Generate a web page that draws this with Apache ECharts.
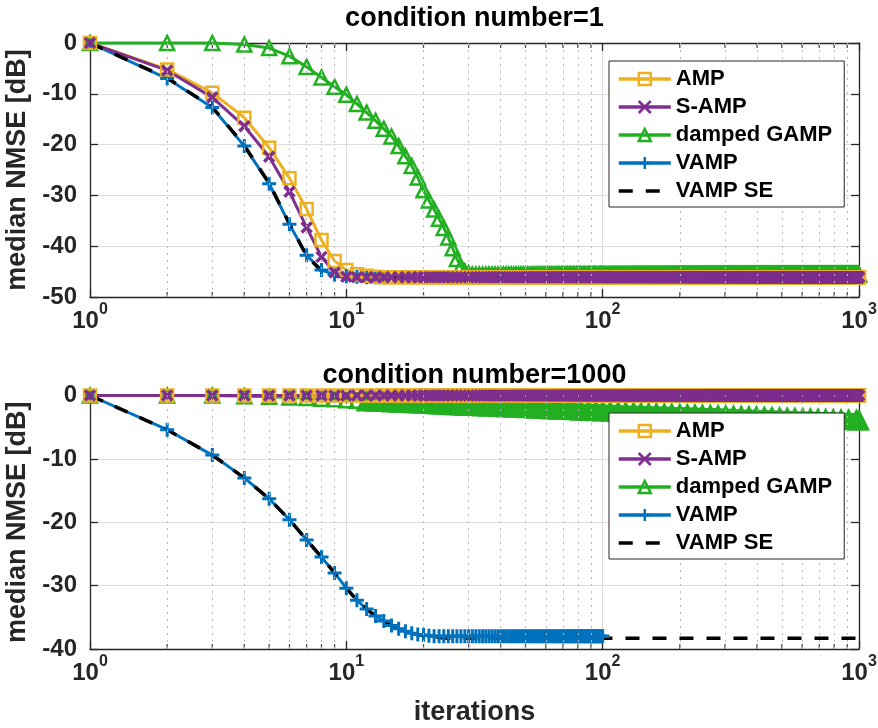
<!DOCTYPE html>
<html><head><meta charset="utf-8">
<script src="https://cdn.jsdelivr.net/npm/echarts@6/dist/echarts.min.js"></script>
<style>html,body{margin:0;padding:0;background:#fff}#c{width:878px;height:728px}</style>
</head><body><div id="c"></div>
<script>
// ================= DATA =================
const seriesNames = ['AMP', 'S-AMP', 'damped GAMP', 'VAMP', 'VAMP SE'];
const panelTitles = ['condition number=1', 'condition number=1000'];
const xTickExponents = [0, 1, 2, 3];            // ticks 10^0 .. 10^3
const yTicksTop = [0, -10, -20, -30, -40, -50];
const yTicksBottom = [0, -10, -20, -30, -40];
const xMinorTicks = [2,3,4,5,6,7,8,9,20,30,40,50,60,70,80,90,200,300,400,500,600,700,800,900];
const lastIteration = 1000;

// --- condition number = 1 : values per iteration 1,2,3,... then a flat floor ---
const ampTopHead   = [0,-5.2,-9.8,-14.7,-20.6,-26.6,-32.7,-38.8,-42.9,-44.7,-45.5,-45.8,-46.0];
const ampTopFloor  = -46.1;
const sampTopHead  = [0,-5.4,-10.7,-16.4,-22.4,-29.3,-36.3,-42.1,-45.2,-46.0];
const sampTopFloor = -46.1;
const gampTopHead  = [0,0,0,-0.3,-1.0,-2.6,-4.7,-6.8,-8.6,-10.2,-12.0,-13.7,-15.3,-16.9,-18.4,
                      -20.3,-22.3,-24.2,-26.5,-29.0,-31.0,-32.8,-34.6,-36.4,-38.3,-40.4,-42.5,-44.0,-45.0,-45.4];
const gampTopFloor = -45.6;
const vampTop      = [0,-7.0,-12.7,-20.3,-27.7,-35.7,-41.8,-44.7,-45.6,-45.9,-46.0,-46.1,-46.1,-46.1];
const vampSeTopHead  = [0,-6.9,-12.6,-20.2,-27.6,-35.6,-41.9,-44.9,-45.8,-46.1];
const vampSeTopFloor = -46.2;

// --- condition number = 1000 ---
const ampBottomHead  = [0];
const ampBottomFloor = 0;
const sampBottomHead = [0];
const sampBottomFloor = 0;
// damped GAMP slowly decreasing: iterations and values read at these iterations
const gampBottomIters = [1,2,3,4,5,6,7,8,9,10,11,12,13,14,15,16,17,18,19,20,21,22,23,24,25,26,27,28,29,30,
  32,34,36,39,42,45,48,51,55,59,63,67,72,77,82,88,94,100,
  107,115,123,132,141,151,162,174,186,200,214,229,245,263,282,302,324,347,372,398,427,457,490,525,562,603,646,692,741,794,851,912,977,1000];
const gampBottomVals = [0,0,0,-0.1,-0.2,-0.3,-0.4,-0.5,-0.6,-0.75,
  -0.82,-0.89,-0.95,-1.0,-1.06,-1.1,-1.15,-1.2,-1.24,-1.28,
  -1.32,-1.35,-1.38,-1.42,-1.45,-1.48,-1.5,-1.53,-1.56,-1.58,
  -1.63,-1.68,-1.72,-1.78,-1.84,-1.89,-1.94,-1.98,-2.04,-2.1,-2.15,-2.2,-2.25,-2.3,-2.35,-2.4,-2.45,-2.5,
  -2.54,-2.59,-2.63,-2.67,-2.71,-2.75,-2.79,-2.84,-2.88,-2.92,-2.96,-3.0,-3.05,-3.09,-3.13,-3.17,-3.22,
  -3.26,-3.3,-3.34,-3.38,-3.42,-3.47,-3.51,-3.55,-3.59,-3.63,-3.68,-3.72,-3.76,-3.8,-3.84,-3.89,-3.9];
const vampBottomHead  = [0,-5.4,-9.4,-13.0,-16.3,-19.6,-22.8,-25.5,-28.0,-30.4,-32.3,-33.7,-34.8,-35.6,-36.3,-36.8,-37.2,-37.5,-37.7,-37.8,-37.9];
const vampBottomFloor = -38.0;
const vampBottomLast  = 100;
const vampSeBottomHead  = [0,-5.4,-9.4,-13.0,-16.3,-19.6,-22.8,-25.5,-28.0,-30.4,-32.3,-33.7,-34.8,-35.6,-36.3,-36.8,-37.2,-37.5,-37.7,-37.9,-38.0,-38.1,-38.2,-38.25,-38.3];
const vampSeBottomFloor = -38.3;

// ================= CHART =================
function perIteration(head, floor, last) {
  const out = [];
  for (let n = 1; n <= last; n++) out.push([n, n <= head.length ? head[n - 1] : floor]);
  return out;
}

const FONT = '"Liberation Sans", Arial, Helvetica, sans-serif';
const AX = '#262626';
const COL = { amp: '#EDB120', samp: '#7E2F8E', gamp: '#22B022', vamp: '#0072BD', se: '#000000' };
const CLEAR = 'rgba(255,255,255,0)';

const styles = {
  'AMP': { symbol: 'rect', symbolSize: 12, itemStyle: { color: CLEAR, borderColor: COL.amp, borderWidth: 2.5 }, lineStyle: { color: COL.amp, width: 3 } },
  'S-AMP': { symbol: 'path://M0,0L10,10M10,0L0,10', symbolSize: 10, itemStyle: { color: CLEAR, borderColor: COL.samp, borderWidth: 3.5 }, lineStyle: { color: COL.samp, width: 3 } },
  'damped GAMP': { symbol: 'triangle', symbolSize: 14, itemStyle: { color: CLEAR, borderColor: COL.gamp, borderWidth: 2.5 }, lineStyle: { color: COL.gamp, width: 3 } },
  'VAMP': { symbol: 'path://M5,0L5,10M0,5L10,5', symbolSize: 14, itemStyle: { color: CLEAR, borderColor: COL.vamp, borderWidth: 3 }, lineStyle: { color: COL.vamp, width: 3 } },
  'VAMP SE': { symbol: 'none', lineStyle: { color: COL.se, width: 3.5, type: [14, 13] } }
};

function lineSeries(name, gi, data, override) {
  const s = Object.assign({
    type: 'line', name, xAxisIndex: 2 * gi, yAxisIndex: 2 * gi, data,
    clip: false, animation: false, silent: true, emphasis: { disabled: true }
  }, JSON.parse(JSON.stringify(styles[name])));
  if (override) {
    Object.keys(override).forEach(k => {
      s[k] = (typeof override[k] === 'object') ? Object.assign({}, s[k], override[k]) : override[k];
    });
  }
  return s;
}

const gridsPos = [
  { left: 90, top: 43, width: 769, height: 254 },
  { left: 90, top: 395.5, width: 769, height: 253.5 }
];
const yTickSets = [yTicksTop, yTicksBottom];

const xAxes = [], yAxes = [], series = [];
gridsPos.forEach((g, i) => {
  const ymin = Math.min(...yTickSets[i]), ymax = Math.max(...yTickSets[i]);
  xAxes.push({
    type: 'log', logBase: 10, gridIndex: i, min: 1, max: 1000, splitNumber: xTickExponents.length - 1,
    axisLine: { show: true, onZero: false, lineStyle: { color: AX, width: 1.3 } },
    axisTick: { show: true, inside: true, length: 8, lineStyle: { color: AX, width: 1.3 } },
    splitLine: { show: true, lineStyle: { color: '#dcdcdc', width: 1 } },
    axisLabel: {
      margin: 12, showMinLabel: true, showMaxLabel: true,
      formatter: v => '{b|10}{s|' + Math.round(Math.log10(v)) + '}',
      rich: {
        b: { fontSize: 24, fontWeight: 'bold', color: AX, fontFamily: FONT, lineHeight: 24, verticalAlign: 'bottom' },
        s: { fontSize: 16, fontWeight: 'bold', color: AX, fontFamily: FONT, lineHeight: 16, verticalAlign: 'bottom', padding: [0, 0, 15, 0] }
      }
    },
    name: i === 1 ? 'iterations' : '', nameLocation: 'middle', nameGap: 50,
    nameTextStyle: { fontSize: 27, fontWeight: 'bold', color: AX, fontFamily: FONT }
  });
  xAxes.push({
    type: 'log', logBase: 10, gridIndex: i, min: 1, max: 1000, position: 'top', splitNumber: 3,
    axisLine: { show: true, onZero: false, lineStyle: { color: AX, width: 1.3 } },
    axisTick: { show: true, inside: true, length: 8, lineStyle: { color: AX, width: 1.3 } },
    axisLabel: { show: false }, splitLine: { show: false }
  });
  yAxes.push({
    type: 'value', gridIndex: i, min: ymin, max: ymax, interval: 10,
    axisLine: { show: true, onZero: false, lineStyle: { color: AX, width: 1.3 } },
    axisTick: { show: true, inside: true, length: 8, lineStyle: { color: AX, width: 1.3 } },
    splitLine: { show: true, lineStyle: { color: '#dcdcdc', width: 1 } },
    axisLabel: { margin: 13, fontSize: 24, fontWeight: 'bold', color: AX, fontFamily: FONT },
    name: 'median NMSE [dB]', nameLocation: 'middle', nameGap: 45,
    nameTextStyle: { fontSize: 27, fontWeight: 'bold', color: AX, fontFamily: FONT }
  });
  yAxes.push({
    type: 'value', gridIndex: i, min: ymin, max: ymax, interval: 10, position: 'right',
    axisLine: { show: true, onZero: false, lineStyle: { color: AX, width: 1.3 } },
    axisTick: { show: true, inside: true, length: 8, lineStyle: { color: AX, width: 1.3 } },
    axisLabel: { show: false }, splitLine: { show: false }
  });
  // minor ticks (2..9 per decade) and dotted minor grid lines
  series.push({
    type: 'scatter', xAxisIndex: 2 * i, yAxisIndex: 2 * i, silent: true, z: 1, animation: false, clip: false,
    symbol: 'rect', symbolSize: [1.3, 5], itemStyle: { color: AX },
    data: xMinorTicks.map(x => ({ value: [x, ymin], symbolOffset: [0, -2.5] }))
      .concat(xMinorTicks.map(x => ({ value: [x, ymax], symbolOffset: [0, 2.5] }))),
    markLine: {
      silent: true, symbol: 'none', label: { show: false }, animation: false,
      lineStyle: { type: [2, 5], color: '#b8b8b8', width: 1 },
      emphasis: { disabled: true },
      data: xMinorTicks.map(x => ({ xAxis: x }))
    }
  });
});

// top panel (draw order: VAMP, damped GAMP, AMP, S-AMP, VAMP SE)
series.push(lineSeries('VAMP', 0, vampTop.map((v, k) => [k + 1, v])));
series.push(lineSeries('damped GAMP', 0, perIteration(gampTopHead, gampTopFloor, lastIteration)));
series.push(lineSeries('AMP', 0, perIteration(ampTopHead, ampTopFloor, lastIteration)));
series.push(lineSeries('S-AMP', 0, perIteration(sampTopHead, sampTopFloor, lastIteration)));
series.push(lineSeries('VAMP SE', 0, perIteration(vampSeTopHead, vampSeTopFloor, lastIteration)));

// bottom panel
series.push(lineSeries('VAMP', 1, perIteration(vampBottomHead, vampBottomFloor, vampBottomLast)));
const gampBottomPairs = gampBottomIters.map((n, k) => [n, gampBottomVals[k]]);
const denseFrom = 11; // index from which the markers pile up into a solid wedge
// dense part: markers overlap into a solid band
series.push(lineSeries('damped GAMP', 1, gampBottomPairs.slice(denseFrom),
  { lineStyle: { width: 14 }, itemStyle: { color: COL.gamp }, symbolSize: 18 }));
// sparse part with individual hollow markers
series.push(lineSeries('damped GAMP', 1, gampBottomPairs.slice(0, denseFrom + 1)));
series.push(lineSeries('AMP', 1, perIteration(ampBottomHead, ampBottomFloor, lastIteration)));
series.push(lineSeries('S-AMP', 1, perIteration(sampBottomHead, sampBottomFloor, lastIteration)));
series.push(lineSeries('VAMP SE', 1, perIteration(vampSeBottomHead, vampSeBottomFloor, lastIteration)));

const legendData = seriesNames.map(n => n === 'VAMP SE'
  ? { name: n, itemStyle: { color: CLEAR, borderColor: CLEAR, borderWidth: 0 } }
  : { name: n });

const option = {
  backgroundColor: '#fff',
  animation: false,
  grid: gridsPos.map(g => Object.assign({ containLabel: false, outerBoundsMode: 'none' }, g)),
  xAxis: xAxes,
  yAxis: yAxes,
  legend: [61, 413].map(top => ({
    data: legendData, orient: 'vertical', left: 609, top,
    padding: [7, 12, 5, 8], itemGap: 6, itemWidth: 52, itemHeight: 15,
    backgroundColor: '#fff', borderColor: AX, borderWidth: 1, borderRadius: 0,
    selectedMode: false, z: 10,
    lineStyle: { width: 3.5 },
    itemStyle: { borderWidth: 2.5 },
    textStyle: { fontSize: 22, fontWeight: 'bold', color: '#000', fontFamily: FONT, lineHeight: 22 }
  })),
  graphic: panelTitles.map((t, i) => ({
    type: 'text', x: 474.5, y: i === 0 ? 19 : 376, z: 20,
    style: { text: t, font: 'bold 27px ' + FONT, fill: '#000', textAlign: 'center', textVerticalAlign: 'middle' }
  })),
  series
};

const chart = echarts.init(document.getElementById('c'), null, { renderer: 'canvas' });
chart.setOption(option);
</script>
</body></html>
